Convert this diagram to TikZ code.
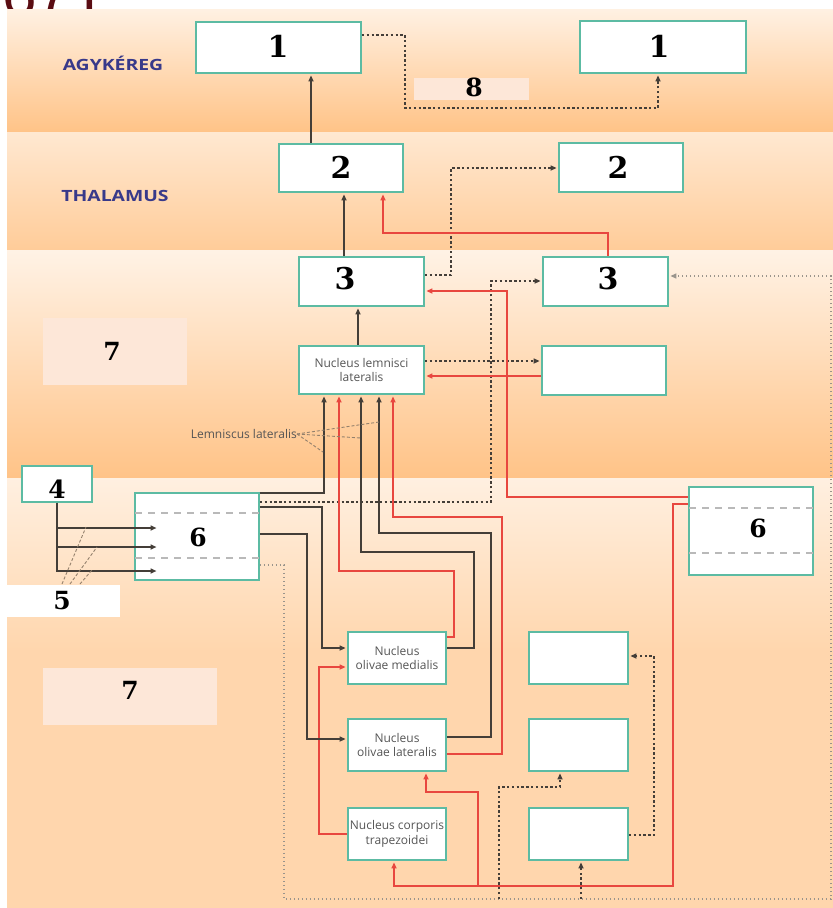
\documentclass[tikz,border=0pt]{standalone}
\usepackage{fontspec}
\setmainfont{Open Sans}
\newfontfamily\numfont{DejaVu Serif}
\newfontfamily\lblfont{Open Sans}
\newfontfamily\titfont{Liberation Sans}
\usetikzlibrary{arrows.meta}
\definecolor{teal1}{HTML}{5CBBA3}
\definecolor{linedark}{HTML}{443E38}
\definecolor{red1}{HTML}{E8473F}
\definecolor{greyl}{HTML}{9A948C}
\definecolor{txtgrey}{HTML}{555555}
\definecolor{bluet}{HTML}{38398A}
\definecolor{titred}{HTML}{5A0C12}
\definecolor{lblbg}{HTML}{FDE7D8}
\tikzset{
  box/.style={draw=teal1, line width=1.8pt, fill=white, inner sep=0pt},
  num/.style={font=\numfont\bfseries\fontsize{30}{30}\selectfont, inner sep=0pt},
  nums/.style={font=\numfont\bfseries\fontsize{25}{25}\selectfont, inner sep=0pt},
  small/.style={font=\lblfont\fontsize{12}{14.5}\selectfont, text=txtgrey, align=center},
  region/.style={font=\lblfont\bfseries\fontsize{15.5}{16}\selectfont, text=bluet, xscale=1.25},
  tip/.style={-{Triangle[length=6pt,width=5pt]}, shorten >=1.5pt},
  blk/.style={draw=linedark, line width=2.3pt},
  redl/.style={draw=red1, line width=1.9pt},
  dotd/.style={draw=linedark, line width=1.9pt, dash pattern=on 2.4pt off 2.4pt},
  dotl/.style={draw=greyl, line width=1.3pt, dash pattern=on 1.4pt off 2.6pt},
  innerdash/.style={draw=gray!55, line width=1.5pt, dash pattern=on 7pt off 6pt},
  lemdash/.style={draw=gray!70!brown, line width=0.9pt, dash pattern=on 3pt off 2pt},
}
\begin{document}
\begin{tikzpicture}[x=1pt,y=-1pt]
\useasboundingbox (0,0) rectangle (833,908);
% partial title (cut off at the top)
\node[anchor=base west, inner sep=0pt, text=titred, font=\titfont\fontsize{62}{62}\selectfont] (title) at (2,16) {671};
% background bands
\shade[top color=white!60!orange!28, bottom color=orange!47!white] (7,9) rectangle (833,132);
\shade[top color=orange!18!white, bottom color=orange!40!white] (7,132) rectangle (833,250);
\shade[top color=orange!10!white, bottom color=orange!47!white] (7,250) rectangle (833,478);
\shade[top color=orange!12!white, bottom color=orange!32!white] (7,478) rectangle (833,650);
\fill[orange!32!white] (7,650) rectangle (833,908);
% helper coordinates
\foreach \v in {35,108,168,275,276,281,291,361,376,493,497,502,504,507,508,513,534,553,558,565,637,648,656,667,737,739,754,834,835}
  \coordinate (h\v) at (0,\v);
\foreach \v in {311,324,339,344,358,361,379,383,393,394,426,560,581,608,658}
  \coordinate (k\v) at (\v,0);
% region labels
\node[region] (agy) at (113,63) {AGYKÉREG};
\node[region] (thal) at (115,196) {THALAMUS};
% light label fields
\node[fill=lblbg, minimum width=115pt, minimum height=22pt, inner sep=0pt] (f8) at (471.5,89) {};
\node[fill=lblbg, minimum width=144pt, minimum height=67pt, inner sep=0pt] (f7a) at (115,351.5) {};
\node[fill=lblbg, minimum width=174pt, minimum height=57pt, inner sep=0pt] (f7b) at (130,696.5) {};
\node[fill=white, minimum width=113pt, minimum height=32pt, inner sep=0pt] (f5) at (63.5,601) {};
\node[nums] (t8) at (474,87) {8};
\node[nums] (t7a) at (112,351) {7};
\node[nums] (t7b) at (130,690) {7};
\node[nums] (t5) at (62,601) {5};
% boxes
\node[box, minimum width=165pt, minimum height=51pt] (b1L) at (278.5,47.5) {};
\node[box, minimum width=166pt, minimum height=52pt] (b1R) at (663,47) {};
\node[box, minimum width=124pt, minimum height=48pt] (b2L) at (341,168) {};
\node[box, minimum width=124pt, minimum height=49pt] (b2R) at (621,167.5) {};
\node[box, minimum width=125pt, minimum height=49pt] (b3L) at (361.5,281.5) {};
\node[box, minimum width=125pt, minimum height=49pt] (b3R) at (605.5,281.5) {};
\node[box, minimum width=125pt, minimum height=48pt, small] (nll) at (361.5,370) {Nucleus lemnisci\\lateralis};
\node[box, minimum width=124pt, minimum height=49pt] (eR) at (604,370.5) {};
\node[box, minimum width=70pt, minimum height=36pt] (b4) at (57,484) {};
\node[box, minimum width=124pt, minimum height=87pt] (b6L) at (197,536.5) {};
\node[box, minimum width=124pt, minimum height=88pt] (b6R) at (751,531) {};
\node[box, minimum width=98pt, minimum height=52pt, small] (nom) at (397,658) {Nucleus\\olivae medialis};
\node[box, minimum width=98pt, minimum height=52pt, small] (nol) at (397,745) {Nucleus\\olivae lateralis};
\node[box, minimum width=98pt, minimum height=52pt, small] (nct) at (397,834) {Nucleus corporis\\trapezoidei};
\node[box, minimum width=99pt, minimum height=52pt] (e1) at (578.5,658) {};
\node[box, minimum width=99pt, minimum height=52pt] (e2) at (578.5,745) {};
\node[box, minimum width=99pt, minimum height=52pt] (e3) at (578.5,834) {};
% dashed lines inside the 6 boxes
\draw[innerdash] ([xshift=1pt]b6L.west |- h513) -- ([xshift=-1pt]b6L.east |- h513);
\draw[innerdash] ([xshift=1pt]b6L.west |- h558) -- ([xshift=-1pt]b6L.east |- h558);
\draw[innerdash] ([xshift=1pt]b6R.west |- h508) -- ([xshift=-1pt]b6R.east |- h508);
\draw[innerdash] ([xshift=1pt]b6R.west |- h553) -- ([xshift=-1pt]b6R.east |- h553);
% numbers
\node[num] (t1L) at (278,46.5) {1};
\node[num] (t1R) at (659,46) {1};
\node[num] (t2L) at (341,167) {2};
\node[num] (t2R) at (618,167) {2};
\node[num] (t3L) at (345,279) {3};
\node[num] (t3R) at (608,279) {3};
\node[nums] (t4) at (57,489) {4};
\node[nums] (t6L) at (198,537) {6};
\node[nums] (t6R) at (758,528) {6};
% Lemniscus lateralis
\node[small, anchor=east, inner sep=0pt] (lem) at (297,434) {Lemniscus lateralis};
% main ascending black arrows
\draw[blk,tip] (b2L.north -| k311) -- (b1L.south -| k311);
\draw[blk,tip] (b3L.north -| k344) -- (b2L.south -| k344);
\draw[blk,tip] (nll.north -| k358) -- (b3L.south -| k358);
% dotted dark connectors
\draw[dotd,tip] (b1L.east |- h35) -- (405,35) -- (405,108) -| (b1R.south -| k658);
\draw[dotd,tip] (b3L.east |- h275) -| (451,168) -- (b2R.west |- h168);
\draw[dotd,tip] (b6L.east |- h502) -| (491,281) -- (b3R.west |- h281);
\draw[dotd,tip] (nll.east |- h361) -- (eR.west |- h361);
% light dotted loop
\draw[dotl,tip] (b6L.east |- h565) -| (284,899) -| (831,276) -- (b3R.east |- h276);
\draw[dotd,tip] (499,899) |- (560,787) -- (e2.south -| k560);
\draw[dotd,tip] (581,899) -- (e3.south -| k581);
\draw[dotd,tip] (e3.east |- h835) -| (654,656) -- (e1.east |- h656);
% red connectors
\draw[redl,tip] (b3R.north -| k608) -- (608,233) -| (b2L.south -| k383);
\draw[redl,tip] (eR.west |- h376) -- (nll.east |- h376);
\draw[redl,tip] (b6R.west |- h497) -| (507,291) -- (b3L.east |- h291);
\draw[redl,tip] (nom.east |- h637) -| (454,571) -| (nll.south -| k339);
\draw[redl,tip] (nol.east |- h754) -| (502,517) -| (nll.south -| k393);
\draw[redl,tip] (nct.west |- h834) -| (319,667) -- (nom.west |- h667);
\draw[redl,tip] (b6R.west |- h504) -| (673,886) -| (nct.south -| k394);
\draw[redl,tip] (478,886) |- (426,792) -- (nol.south -| k426);
% black connectors between 6 and the nuclei
\draw[blk,tip] (b6L.east |- h493) -| (nll.south -| k324);
\draw[blk,tip] (b6L.east |- h507) -| (322,648) -- (nom.west |- h648);
\draw[blk,tip] (b6L.east |- h534) -| (307,739) -- (nol.west |- h739);
\draw[blk,tip] (nom.east |- h648) -| (474,552) -| (nll.south -| k361);
\draw[blk,tip] (nol.east |- h737) -| (491,533) -| (nll.south -| k379);
% lemniscus pointer lines
\draw[lemdash] (lem.east) -- (379,422);
\draw[lemdash] (lem.east) -- (361,438);
\draw[lemdash] (lem.east) -- (323,452);
% from box 4 into box 6
\draw[blk,tip] (b4.south) |- (158,528);
\draw[blk,tip] (b4.south) |- (158,547);
\draw[blk,tip] (b4.south) |- (158,571);
% dashed lines marking 5
\draw[lemdash] (62,584) -- (86,527);
\draw[lemdash] (70,584) -- (97,547);
\draw[lemdash] (80,584) -- (92,570);
\end{tikzpicture}
\end{document}
